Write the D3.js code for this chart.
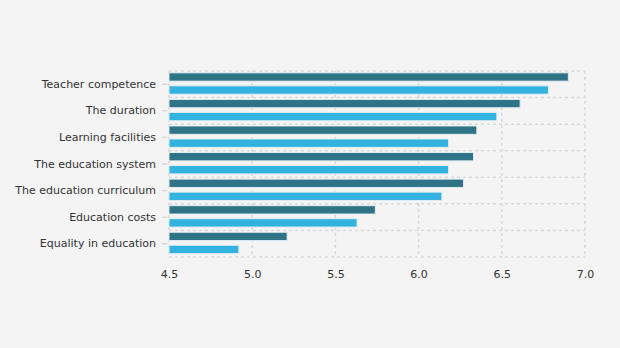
<!DOCTYPE html>
<html>
<head>
<meta charset="utf-8">
<script src="https://cdn.jsdelivr.net/npm/d3@7"></script>
<style>
  body { margin: 0; background: #f4f4f4; }
  svg { display: block; font-family: "DejaVu Sans", Verdana, sans-serif; }
</style>
</head>
<body>
<div id="chart"></div>
<script>
// Categories, top to bottom
const categories = [
    "Teacher competence",
    "The duration",
    "Learning facilities",
    "The education system",
    "The education curriculum",
    "Education costs",
    "Equality in education"
];
// Dark series (upper bar in each row)
const seriesA = [6.90, 6.61, 6.35, 6.33, 6.27, 5.74, 5.21];
// Light series (lower bar in each row)
const seriesB = [6.78, 6.47, 6.18, 6.18, 6.14, 5.63, 4.92];
const xTicks = [4.5, 5.0, 5.5, 6.0, 6.5, 7.0];

const svg = d3.select("#chart").append("svg")
    .attr("width", 620)
    .attr("height", 348);

const margin = { top: 71, right: 35, bottom: 91, left: 169 };
const width = 620 - margin.left - margin.right;
const height = 348 - margin.top - margin.bottom;

const chart = svg.append("g")
    .attr("transform", `translate(${margin.left}, ${margin.top})`);

// Scales
const xScale = d3.scaleLinear().domain([4.5, 7.0]).range([0, width]);
const yScale = d3.scaleBand().domain(categories).range([0, height]).padding(0);
const inner = d3.scaleBand().domain(["a", "b"]).range([0, yScale.bandwidth()])
    .paddingInner(0.36).paddingOuter(0.2).align(0.35);

// Grid
const gridColor = "#d9d9d9";
chart.append("g").selectAll("line")
    .data(xTicks)
    .enter()
    .append("line")
    .attr("x1", d => xScale(d)).attr("x2", d => xScale(d))
    .attr("y1", 0).attr("y2", height)
    .attr("stroke", gridColor)
    .attr("stroke-width", 1.5)
    .attr("stroke-dasharray", "3,3");

const bounds = categories.map(c => yScale(c)).concat([height]);
chart.append("g").selectAll("line")
    .data(bounds)
    .enter()
    .append("line")
    .attr("x1", 0).attr("x2", width)
    .attr("y1", d => d).attr("y2", d => d)
    .attr("stroke", gridColor)
    .attr("stroke-width", 1.5)
    .attr("stroke-dasharray", "3,3");

// Bars
const rows = categories.map((c, i) => ({ c, a: seriesA[i], b: seriesB[i] }));
const rowG = chart.selectAll("g.row")
    .data(rows)
    .enter()
    .append("g")
    .attr("class", "row")
    .attr("transform", d => `translate(0, ${yScale(d.c)})`);

rowG.append("rect")
    .attr("x", 0)
    .attr("y", inner("a"))
    .attr("width", d => xScale(d.a))
    .attr("height", inner.bandwidth())
    .attr("fill", "#2f7386")
    .attr("stroke", "#e2ecf0")
    .attr("stroke-width", 1);

rowG.append("rect")
    .attr("x", 0)
    .attr("y", inner("b"))
    .attr("width", d => xScale(d.b))
    .attr("height", inner.bandwidth())
    .attr("fill", "#31b2df")
    .attr("stroke", "#e2ecf0")
    .attr("stroke-width", 1);

// Y axis
const yAxis = chart.append("g")
    .call(d3.axisLeft(yScale).tickSize(5).tickPadding(8));
yAxis.select(".domain").remove();
yAxis.selectAll(".tick line").attr("stroke", "#d9d9d9").attr("stroke-width", 1.5)
    .attr("transform", "translate(-2,0)");
yAxis.selectAll("text").attr("fill", "#333").attr("font-size", "11px")
    .attr("font-family", "DejaVu Sans, Verdana, sans-serif");

// X axis
const xAxis = chart.append("g")
    .attr("transform", `translate(0, ${height})`)
    .call(d3.axisBottom(xScale).tickValues(xTicks).tickFormat(d3.format(".1f")).tickSize(0).tickPadding(13));
xAxis.select(".domain").remove();
xAxis.selectAll("text").attr("fill", "#333").attr("font-size", "11px")
    .attr("font-family", "DejaVu Sans, Verdana, sans-serif");
</script>
</body>
</html>
